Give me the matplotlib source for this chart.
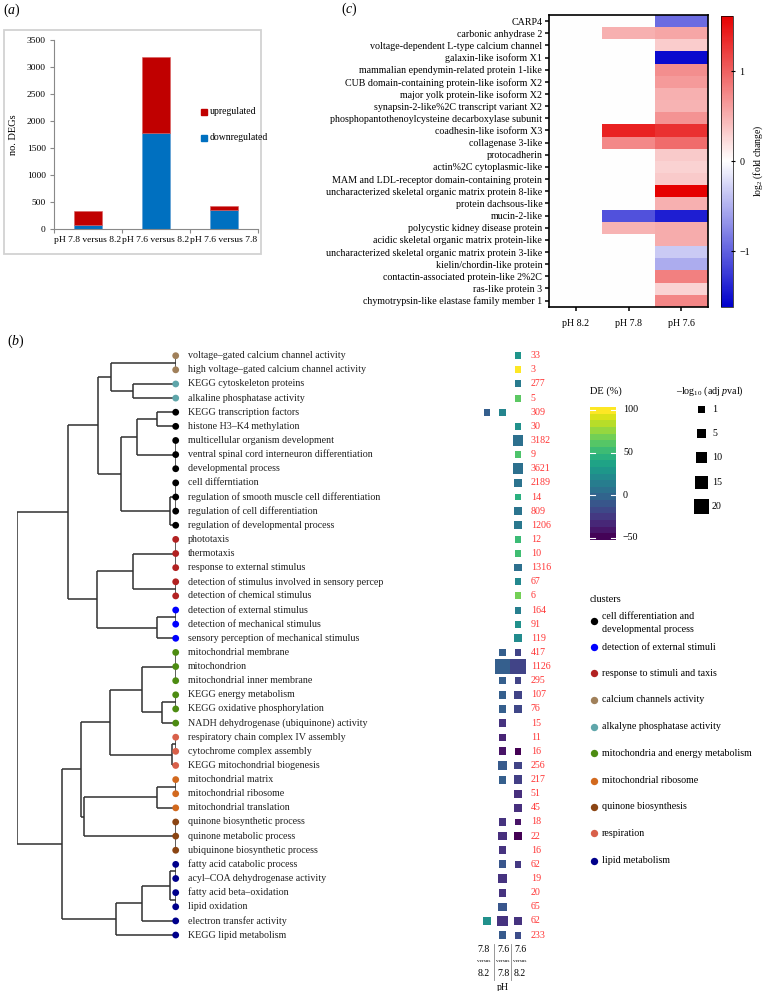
import numpy as np
import matplotlib
matplotlib.use('Agg')
import matplotlib.pyplot as plt
from matplotlib.colors import LinearSegmentedColormap, Normalize
from matplotlib.patches import Rectangle

plt.rcParams['font.family'] = ['Liberation Serif', 'DejaVu Serif']
plt.rcParams['mathtext.fontset'] = 'custom'
plt.rcParams['mathtext.rm'] = 'Liberation Serif'
plt.rcParams['mathtext.it'] = 'Liberation Serif:italic'

# ---------------- data: panel (a)
comparisons = ['pH 7.8 versus 8.2', 'pH 7.6 versus 8.2', 'pH 7.6 versus 7.8']
downregulated = [74, 1784, 352]
upregulated = [266, 1395, 80]

# ---------------- data: panel (c)
genes = ['CARP4', 'carbonic anhydrase 2', 'voltage-dependent L-type calcium channel',
         'galaxin-like isoform X1', 'mammalian ependymin-related protein 1-like',
         'CUB domain-containing protein-like isoform X2', 'major yolk protein-like isoform X2',
         'synapsin-2-like%2C transcript variant X2', 'phosphopantothenoylcysteine decarboxylase subunit',
         'coadhesin-like isoform X3', 'collagenase 3-like', 'protocadherin',
         'actin%2C cytoplasmic-like', 'MAM and LDL-receptor domain-containing protein',
         'uncharacterized skeletal organic matrix protein 8-like', 'protein dachsous-like',
         'mucin-2-like', 'polycystic kidney disease protein',
         'acidic skeletal organic matrix protein-like',
         'uncharacterized skeletal organic matrix protein 3-like', 'kielin/chordin-like protein',
         'contactin-associated protein-like 2%2C', 'ras-like protein 3',
         'chymotrypsin-like elastase family member 1']
ph_conditions = ['pH 8.2', 'pH 7.8', 'pH 7.6']
fc_82 = [0.0] * 24
fc_78 = [0, 0.5, 0, 0, 0, 0, 0, 0, 0, 1.4, 0.75, 0, 0, 0, 0, 0, -1.1, 0.48, 0, 0, 0, 0, 0, 0]
fc_76 = [-0.93, 0.56, 0.32, -1.55, 0.72, 0.64, 0.5, 0.48, 0.68, 1.3, 0.93, 0.34, 0.29, 0.34,
         1.6, 0.5, -1.43, 0.53, 0.52, -0.34, -0.53, 0.8, 0.27, 0.77]

# ---------------- data: panel (b)
terms = ['voltage\u2013gated calcium channel activity', 'high voltage\u2013gated calcium channel activity',
         'KEGG cytoskeleton proteins', 'alkaline phosphatase activity',
         'KEGG transcription factors', 'histone H3\u2013K4 methylation',
         'multicellular organism development', 'ventral spinal cord interneuron differentiation',
         'developmental process', 'cell differntiation',
         'regulation of smooth muscle cell differentiation', 'regulation of cell differentiation',
         'regulation of developmental process', 'phototaxis', 'thermotaxis',
         'response to external stimulus', 'detection of stimulus involved in sensory percep',
         'detection of chemical stimulus', 'detection of external stimulus',
         'detection of mechanical stimulus', 'sensory perception of mechanical stimulus',
         'mitochondrial membrane', 'mitochondrion', 'mitochondrial inner membrane',
         'KEGG energy metabolism', 'KEGG oxidative phosphorylation',
         'NADH dehydrogenase (ubiquinone) activity', 'respiratory chain complex IV assembly',
         'cytochrome complex assembly', 'KEGG mitochondrial biogenesis', 'mitochondrial matrix',
         'mitochondrial ribosome', 'mitochondrial translation', 'quinone biosynthetic process',
         'quinone metabolic process', 'ubiquinone biosynthetic process',
         'fatty acid catabolic process', 'acyl\u2013COA dehydrogenase activity',
         'fatty acid beta\u2013oxidation', 'lipid oxidation', 'electron transfer activity',
         'KEGG lipid metabolism']
gene_counts = [33, 3, 277, 5, 309, 30, 3182, 9, 3621, 2189, 14, 809, 1206, 12, 10, 1316, 67, 6,
               164, 91, 119, 417, 1126, 295, 107, 76, 15, 11, 16, 256, 217, 51, 45, 18, 22, 16,
               62, 19, 20, 65, 62, 233]
term_cluster = (['calcium'] * 2 + ['alkaline'] * 2 + ['celldiff'] * 9 + ['response'] * 5 +
                ['detection'] * 3 + ['mito'] * 6 + ['respiration'] * 3 + ['ribosome'] * 3 +
                ['quinone'] * 3 + ['lipid'] * 6)
cluster_names = ['celldiff', 'detection', 'response', 'calcium', 'alkaline', 'mito',
                 'ribosome', 'quinone', 'respiration', 'lipid']
cluster_labels = ['cell differentiation and\ndevelopmental process', 'detection of external stimuli',
                  'response to stimuli and taxis', 'calcium channels activity',
                  'alkalyne phosphatase activity', 'mitochondria and energy metabolism',
                  'mitochondrial ribosome', 'quinone biosynthesis', 'respiration', 'lipid metabolism']
cluster_colors = {'celldiff': 'black', 'detection': '#0000ff', 'response': '#b22222',
                  'calcium': '#a0805a', 'alkaline': '#5fa6aa', 'mito': '#4d8c12',
                  'ribosome': '#d2691e', 'quinone': '#8b4513', 'respiration': '#d8604a',
                  'lipid': '#00008b'}

nan = np.nan
comparison_cols = ['7.8 versus 8.2', '7.6 versus 7.8', '7.6 versus 8.2']
de_78v82 = [nan]*4 + [-5] + [nan]*35 + [25, nan]
p_78v82 = [nan]*4 + [1] + [nan]*35 + [2, nan]
de_76v78 = ([nan]*4 + [18] + [nan]*16 +
            [-5, -5, -5, -5, -5, -28, -35, -42, -8, -5, nan, nan, -28, -30, -28, -10, -28, -28, -10, -28, -8])
p_76v78 = ([nan]*4 + [1] + [nan]*16 +
           [2, 19, 2, 2, 2, 2, 2, 3, 4, 3, nan, nan, 2, 4, 3, 3, 4, 3, 4, 8, 2])
de_76v82 = [28, 100, 12, 62, nan, 25, 5, 58, 5, 7, 45, 8, 10, 52, 54, 5, 20, 68, 14, 25, 22,
            -20, -20, -20, -20, -18, nan, nan, -50, -20, -22, -30, -30, -42, -50, nan, -25,
            nan, nan, nan, -28, -15]
p_76v82 = [1, 1, 1, 1, nan, 1, 8, 1, 9, 4, 1, 2, 4, 1, 1, 2, 1, 1, 1, 1, 3,
           1, 19, 1, 2, 2, nan, nan, 1, 2, 4, 3, 4, 1, 4, nan, 1,
           nan, nan, nan, 2, 1]
size_legend_values = [1, 5, 10, 15, 20]
de_ticks = [100, 50, 0, -50]

# dendrogram: (merge height, children); ints are leaf rows
tree = (1.0, [
    (0.679, [
        (0.491, [
            (0.407, [(0.0, [0, 1]), (0.267, [2, 3])]),
            (0.346, [
                (0.241, [(0.119, [4, 5]), (0.0, [6, 7, 8])]),
                (0.036, [(0.0, [9, 10, 11]), 12])])]),
        (0.497, [
            (0.267, [(0.0, [13, 14, 15]), (0.0, [16, 17])]),
            (0.119, [(0.0, [18, 19]), 20])])]),
    (0.717, [
        (0.596, [
            (0.413, [
                (0.214, [(0.0, [21, 22, 23]), (0.088, [(0.0, [24, 25]), 26])]),
                (0.025, [(0.0, [27, 28]), 29])]),
            (0.575, [(0.119, [(0.0, [30, 31]), 32]), (0.0, [33, 34, 35])])]),
        (0.377, [(0.21, [(0.036, [(0.0, [36, 37]), (0.0, [38, 39])]), 40]), 41])])])

# ---------------- figure
W, H = 768, 991
fig = plt.figure(figsize=(W / 100, H / 100), dpi=100)


def px(l, t, w, h):
    return [l / W, 1 - (t + h) / H, w / W, h / H]


ov = fig.add_axes([0, 0, 1, 1])
ov.set_xlim(0, W)
ov.set_ylim(H, 0)
ov.axis('off')

FS = 7.2
italic_letter = lambda c: '($\\mathit{%s}$)' % c
ov.text(3, 10, italic_letter('a'), fontsize=10, va='center', ha='left')
ov.text(341, 9, italic_letter('c'), fontsize=10, va='center', ha='left')
ov.text(7, 341, italic_letter('b'), fontsize=10, va='center', ha='left')

# ---------------- panel (a)
ov.add_patch(Rectangle((4, 30), 257, 224, fill=False, edgecolor='#d2d2d2', lw=1.3))
axa = fig.add_axes(px(54, 40, 204, 189))
axa.set_facecolor('none')
xpos = np.arange(len(comparisons)) + 0.5
axa.bar(xpos, downregulated, width=0.41, color='#0070c0', edgecolor='#5a9ad0', lw=0.4)
axa.bar(xpos, upregulated, width=0.41, bottom=downregulated, color='#c00000',
        edgecolor='#d86060', lw=0.4)
axa.set_xlim(0, 3)
axa.set_ylim(0, 3500)
axa.set_yticks(np.arange(0, 3501, 500))
axa.set_xticks([0, 1, 2, 3])
axa.set_xticklabels([])
axa.set_xticks(xpos, minor=True)
axa.set_xticklabels(comparisons, minor=True, fontsize=6.8)
axa.tick_params(axis='x', which='minor', length=0, pad=5)
axa.tick_params(axis='x', which='major', length=3, color='#898989', width=0.8)
axa.tick_params(axis='y', length=3, color='#898989', width=0.8, labelsize=6.8, pad=3)
for s in ['top', 'right']:
    axa.spines[s].set_visible(False)
for s in ['left', 'bottom']:
    axa.spines[s].set_color('#898989')
    axa.spines[s].set_linewidth(0.8)
axa.set_ylabel('no. DEGs', fontsize=7.5, labelpad=6)
axa.add_patch(Rectangle((201, 109), 6, 6, color='#c00000', transform=ov.transData, clip_on=False))
axa.text(210, 112, 'upregulated', fontsize=7, va='center', transform=ov.transData)
axa.add_patch(Rectangle((201, 135), 6, 6, color='#0070c0', transform=ov.transData, clip_on=False))
axa.text(210, 138, 'downregulated', fontsize=7, va='center', transform=ov.transData)

# ---------------- panel (c)
cmap_fc = LinearSegmentedColormap.from_list('bwr2', ['#0000cc', '#ffffff', '#e60000'])
norm_fc = Normalize(vmin=-1.62, vmax=1.62)
axc = fig.add_axes(px(549.3, 15, 158.4, 291.7))
mat = np.column_stack([fc_82, fc_78, fc_76])
im = axc.imshow(mat, cmap=cmap_fc, norm=norm_fc, aspect='auto', interpolation='nearest')
axc.set_yticks(range(len(genes)))
axc.set_yticklabels(genes, fontsize=FS)
axc.set_xticks(range(3))
axc.set_xticklabels(ph_conditions, fontsize=FS)
axc.tick_params(length=3, width=1.1, pad=2)
axc.tick_params(axis='x', pad=6)
for s in axc.spines.values():
    s.set_linewidth(1.2)
cax = fig.add_axes(px(720.7, 15.7, 12.6, 291))
cb = fig.colorbar(im, cax=cax, ticks=[-1, 0, 1])
cb.ax.set_yticklabels(['\u22121', '0', '1'], fontsize=FS)
cb.ax.tick_params(length=3, width=0.8, direction='inout', pad=3)
cb.outline.set_linewidth(0.5)
cb.set_label('log$_2$ (fold change)', fontsize=7, labelpad=1)

# ---------------- panel (b): dendrogram
row0, drow = 355.7, 14.13
nrows = len(terms)
top_px = row0 - 0.5 * drow
axd = fig.add_axes(px(16.7, top_px, 159, nrows * drow))
axd.set_xlim(1.0, 0.0)
axd.set_ylim(nrows - 0.5, -0.5)
axd.axis('off')


def draw(node):
    if isinstance(node, int):
        return 0.0, float(node)
    h, kids = node
    res = [draw(k) for k in kids]
    ys = [r[1] for r in res]
    for hc, yc in res:
        axd.plot([hc, h], [yc, yc], color='#303030', lw=1.1, solid_capstyle='butt')
    axd.plot([h, h], [min(ys), max(ys)], color='#303030', lw=1.1, solid_capstyle='butt')
    return h, float(np.mean(ys))


draw(tree)
rows = np.arange(nrows)
axd.scatter(np.zeros(nrows), rows, s=24, c=[cluster_colors[c] for c in term_cluster],
            zorder=5, clip_on=False, linewidths=0)
for i, t in enumerate(terms):
    axd.annotate(t, (0, i), xytext=(8.8, 0), textcoords='offset points', va='center',
                 ha='left', fontsize=FS, annotation_clip=False, color='#202020')

# ---------------- panel (b): squares
cmap_de = plt.get_cmap('viridis')
norm_de = Normalize(vmin=-50, vmax=100)


def sq_size(p):
    side_px = 6.5 + 0.45 * np.asarray(p, dtype=float)
    return (side_px * 0.72) ** 2


axs = fig.add_axes(px(479.25, top_px, 46.5, nrows * drow))
axs.set_xlim(0.5, 3.5)
axs.set_ylim(nrows - 0.5, -0.5)
axs.axis('off')
for ci, (de, pv) in enumerate([(de_78v82, p_78v82), (de_76v78, p_76v78), (de_76v82, p_76v82)]):
    de = np.asarray(de, dtype=float)
    pv = np.asarray(pv, dtype=float)
    m = ~np.isnan(de)
    axs.scatter(np.full(m.sum(), ci + 1), rows[m], s=sq_size(pv[m]), c=de[m], cmap=cmap_de,
                norm=norm_de, marker='s', linewidths=0, clip_on=False)
for i, n in enumerate(gene_counts):
    axs.annotate(str(n), (3, i), xytext=(9.2, 0), textcoords='offset points', va='center',
                 ha='left', fontsize=FS, color='#ff3535', annotation_clip=False)

# bottom comparison labels
col_x = [484, 503, 520]
for cx, lab in zip(col_x, comparison_cols):
    a, _, b = lab.split(' ')
    ov.text(cx, 950, a, fontsize=7, ha='center', va='center')
    ov.text(cx, 961.5, 'versus', fontsize=3.8, ha='center', va='center')
    ov.text(cx, 973.5, b, fontsize=7, ha='center', va='center')
for sx in [494, 511]:
    ov.plot([sx, sx], [944, 980], color='#888888', lw=0.6)
ov.text(503, 988, 'pH', fontsize=7, ha='center', va='center')

# DE colorbar
ov.text(590, 391, 'DE (%)', fontsize=7.5, ha='left', va='center')
axde = fig.add_axes(px(590, 407, 26, 133))
lo, hi = -52.7, 103.5
edges = np.linspace(lo, hi, 21)
band = ((edges[:-1] + edges[1:]) / 2).reshape(-1, 1)
axde.imshow(band, cmap=cmap_de, norm=norm_de, aspect='auto', origin='lower',
            extent=[0, 1, lo, hi], interpolation='nearest')
axde.set_xlim(0, 1)
axde.set_ylim(lo, hi)
axde.axis('off')
for tv in de_ticks:
    axde.plot([0, 0.2], [tv, tv], color='white', lw=0.8)
    axde.plot([0.8, 1], [tv, tv], color='white', lw=0.8)
    axde.annotate('\u221250' if tv < 0 else str(tv), (1, tv), xytext=(5, 0),
                  textcoords='offset points', va='center', ha='left', fontsize=FS,
                  annotation_clip=False)

# size legend
ov.text(676, 391, '\u2013log$_{10}$ (adj $\\mathit{p}$val)', fontsize=7.2, ha='left', va='center')
size_y = [409.7, 433.3, 457.3, 482.3, 506.7]
ov.scatter([701.5] * 5, size_y, s=sq_size(size_legend_values), c='black', marker='s',
           linewidths=0)
for yv, v in zip(size_y, size_legend_values):
    ov.text(712, yv, str(v), fontsize=FS, ha='left', va='center')

# cluster legend
ov.text(590, 599, 'clusters', fontsize=7.5, ha='left', va='center')
leg_y = [621, 647, 673, 699.5, 726.5, 753, 780.5, 806.5, 833, 860.5]
for yv, cn, cl in zip(leg_y, cluster_names, cluster_labels):
    ov.scatter([594], [yv], s=28, color=cluster_colors[cn], linewidths=0)
    if '\n' in cl:
        l1, l2 = cl.split('\n')
        ov.text(602, yv - 4.5, l1, fontsize=FS, ha='left', va='center')
        ov.text(602, yv + 8, l2, fontsize=FS, ha='left', va='center')
    else:
        ov.text(602, yv, cl, fontsize=FS, ha='left', va='center')

fig.savefig('out.png', dpi=100)
